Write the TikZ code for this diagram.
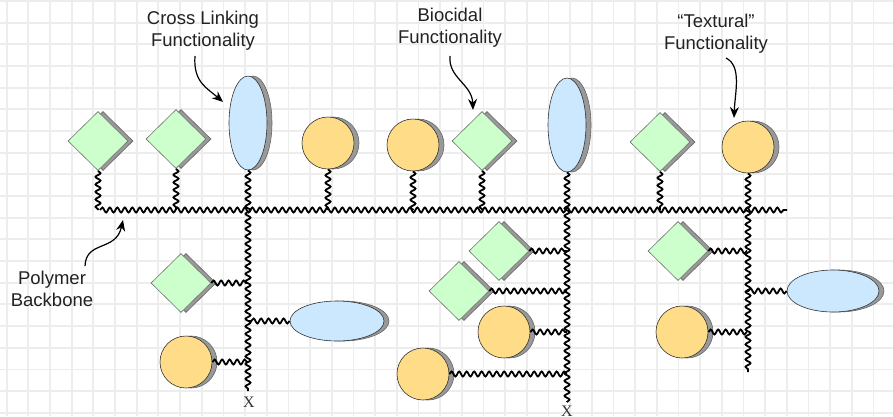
\documentclass[tikz,border=0pt]{standalone}
\usepackage{fontspec}
\setmainfont{Liberation Sans}
\newfontfamily\xfont{Liberation Serif}
\usetikzlibrary{shapes.geometric,shadows,decorations.pathmorphing,arrows.meta}
\definecolor{gfill}{HTML}{CCFFCC}
\definecolor{ofill}{HTML}{FFDD88}
\definecolor{bfill}{HTML}{CCE8FF}
\definecolor{shgray}{HTML}{999999}
\definecolor{gridc}{HTML}{EDEDED}
\definecolor{txt}{HTML}{222222}
\begin{document}
\begin{tikzpicture}[x=1pt,y=-1pt,
  gridline/.style={draw=gridc,line width=1.8pt},
  shad/.style={copy shadow={shadow xshift=5pt,shadow yshift=0pt,fill=shgray,draw=black!60,line width=0.6pt}},
  gdia/.style={diamond,draw=black!55,line width=0.6pt,fill=gfill,minimum width=60pt,minimum height=59pt,inner sep=0pt,shad},
  ocirc/.style={ellipse,draw=black!80,line width=0.6pt,fill=ofill,minimum width=52pt,minimum height=52pt,inner sep=0pt,shad},
  bvert/.style={ellipse,draw=black!80,line width=0.6pt,fill=bfill,minimum width=38pt,minimum height=94pt,inner sep=0pt,shad},
  bhor/.style={ellipse,draw=black!80,line width=0.6pt,fill=bfill,minimum width=94pt,minimum height=40pt,inner sep=0pt,shad},
  wavy/.style={draw=black,line width=1.8pt,decorate,decoration={snake,segment length=7.5pt,amplitude=2.5pt}},
  lbl/.style={font=\fontsize{18.5}{22}\selectfont,text=txt,align=center,inner sep=0pt},
  callout/.style={draw=black,line width=1.2pt,-{Stealth[length=11pt,width=9pt]}},
  xlbl/.style={font=\xfont\fontsize{16}{16}\selectfont,text=black!80,inner sep=0pt}
]
\fill[white] (0,0) rectangle (893,416);
\useasboundingbox (0,0) rectangle (893,416);
\foreach \i in {0,...,40} \draw[gridline] ({6.7+21.67*\i},0) -- ({6.7+21.67*\i},416);
\foreach \j in {0,...,19} \draw[gridline] (0,{1+21.67*\j}) -- (893,{1+21.67*\j});

% coordinates of backbones
\coordinate (bbL) at (100,210);
\coordinate (bbR) at (787,210);
\coordinate (vA) at (248,210);
\coordinate (vB) at (567,210);
\coordinate (vC) at (747,210);
\coordinate (endA) at (248,391);
\coordinate (endB) at (567,402);
\coordinate (endC) at (747,372);

% horizontal backbone
\draw[wavy] (bbL) -- (bbR);

% top pendants
\node[gdia] (d1) at (98,141) {};
\node[gdia] (d2) at (176,139) {};
\node[bvert] (e1) at (248,123) {};
\node[ocirc] (c1) at (328,143) {};
\node[ocirc] (c2) at (413,145) {};
\node[gdia] (d3) at (482,141) {};
\node[bvert] (e2) at (567,125) {};
\node[gdia] (d4) at (660,142) {};
\node[ocirc] (c3) at (748,147) {};

% lower left group
\node[gdia] (ld) at (181,283) {};
\node[bhor] (le) at (337,321) {};
\node[ocirc] (lc) at (186,362) {};
% lower middle group
\node[gdia] (md1) at (499,251) {};
\node[gdia] (md2) at (459,291) {};
\node[ocirc] (mc1) at (504,332) {};
\node[ocirc] (mc2) at (423,374) {};
% lower right group
\node[gdia] (rd) at (678,251) {};
\node[bhor,minimum width=92pt,minimum height=42pt] (re) at (833,291) {};
\node[ocirc] (rc) at (682,332) {};

% X ends
\node[xlbl] (xA) at (249,402) {X};
\node[xlbl] (xB) at (567,411) {X};

% stems to horizontal backbone
\foreach \n in {d1,d2,c1,c2,d3,d4} \draw[wavy] (\n.south) -- (\n.south |- bbL);
% vertical backbones
\draw[wavy] (e1.south) -- (e1.south |- endA);
\draw[wavy] (e2.south) -- (e2.south |- endB);
\draw[wavy] (c3.south) -- (c3.south |- endC);

% side stems
\draw[wavy] (ld.east) -- (ld.east -| vA);
\draw[wavy] (le.west) -- (le.west -| vA);
\draw[wavy] (lc.east) -- (lc.east -| vA);
\draw[wavy] (md1.east) -- (md1.east -| vB);
\draw[wavy] (md2.east) -- (md2.east -| vB);
\draw[wavy] (mc1.east) -- (mc1.east -| vB);
\draw[wavy] (mc2.east) -- (mc2.east -| vB);
\draw[wavy] (rd.east) -- (rd.east -| vC);
\draw[wavy] (re.west) -- (re.west -| vC);
\draw[wavy] (rc.east) -- (rc.east -| vC);

% labels
\node[lbl] (cl) at (203,31) {Cross Linking\\Functionality};
\node[lbl] (bc) at (450,28) {Biocidal\\Functionality};
\node[lbl] (tx) at (716,34) {“Textural”\\Functionality};
\node[lbl] (pb) at (52,289) {Polymer\\Backbone};

% callout arrows
\coordinate (clS) at (195,56);
\coordinate (clT) at (223,102);
\coordinate (bcS) at (450,56);
\coordinate (bcT) at (473,110);
\coordinate (txS) at (726,58);
\coordinate (txT) at (734,118);
\coordinate (pbS) at (85,266);
\coordinate (pbT) at (123,220);
\draw[callout] (clS) .. controls (193,82) and (207,88) .. (clT);
\draw[callout] (bcS) .. controls (448,78) and (472,84) .. (bcT);
\draw[callout] (txS) .. controls (742,66) and (735,92) .. (txT);
\draw[callout] (pbS) .. controls (86,240) and (116,252) .. (pbT);
\end{tikzpicture}
\end{document}
